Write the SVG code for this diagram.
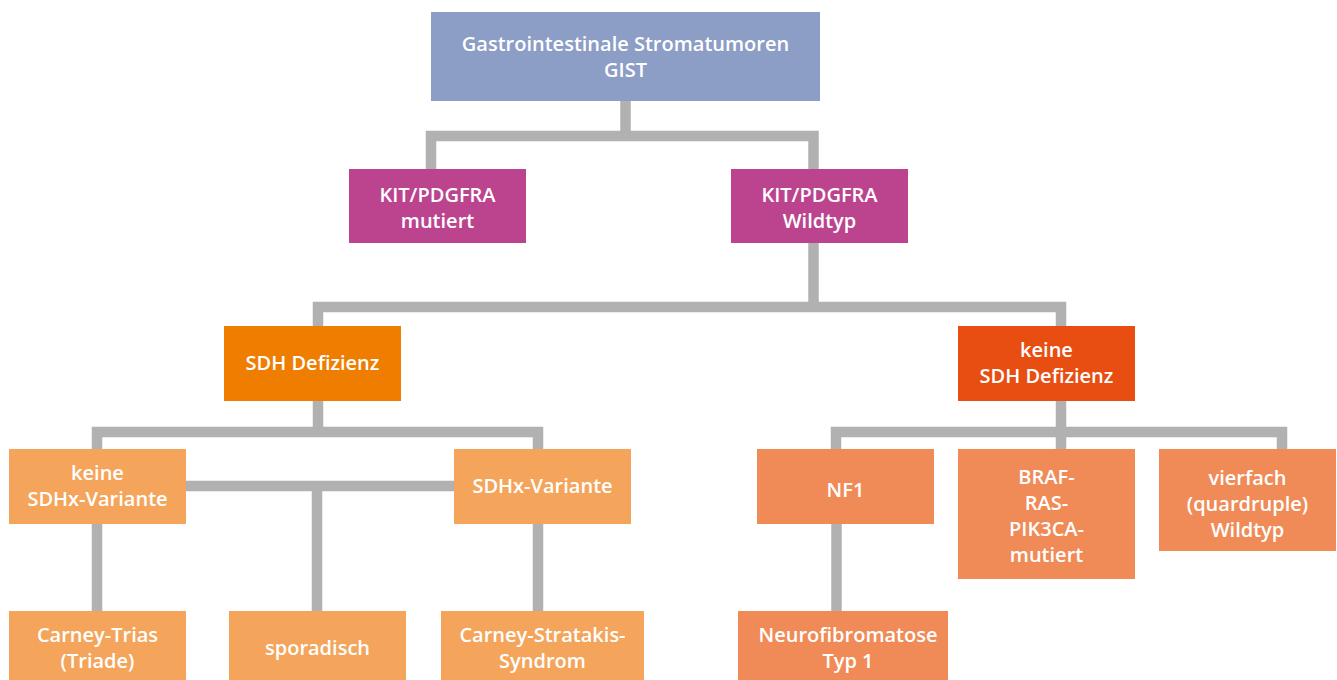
<svg xmlns="http://www.w3.org/2000/svg" width="1337" height="680" viewBox="0 0 1337 680">
<style>
text{font-family:"Open Sans","Noto Sans","Liberation Sans",sans-serif;font-weight:600;font-size:20px;fill:#fff;text-anchor:middle;dominant-baseline:central}
.c{fill:none;stroke:#b1b1b1;stroke-width:10.5}
.top{fill:#8c9dc6}.mag{fill:#bc448f}.sdh{fill:#ef7d00}.ksdh{fill:#e84e12}.lo{fill:#f4a55b}.ro{fill:#f08b57}
</style>
<rect width="1337" height="680" fill="#fff"/>
<g id="connectors">
<path class="c" d="M625.5 101V136M431 174V136H813.5V174"/>
<path class="c" d="M813.5 243V307"/>
<path class="c" d="M318 326V307H1061V326"/>
<path class="c" d="M318 401V432"/>
<path class="c" d="M97 449V432H538V449"/>
<path class="c" d="M186 486H454"/>
<path class="c" d="M317 486V611"/>
<path class="c" d="M97 524V611"/>
<path class="c" d="M538 524V611"/>
<path class="c" d="M1061 401V449"/>
<path class="c" d="M836 449V432H1282V449"/>
<path class="c" d="M836.5 524V611"/>
</g>
<g id="n_gist"><rect class="top" x="431" y="12" width="389" height="89"/><text x="625.5" y="43">Gastrointestinale Stromatumoren</text><text x="625.5" y="69">GIST</text></g>
<g id="n_mut"><rect class="mag" x="349" y="169" width="177" height="74"/><text x="437.5" y="194">KIT/PDGFRA</text><text x="437.5" y="220">mutiert</text></g>
<g id="n_wild"><rect class="mag" x="731" y="169" width="177" height="74"/><text x="819.5" y="194">KIT/PDGFRA</text><text x="819.5" y="220">Wildtyp</text></g>
<g id="n_sdh"><rect class="sdh" x="224" y="326" width="177" height="75"/><text x="312.5" y="362">SDH Defizienz</text></g>
<g id="n_ksdh"><rect class="ksdh" x="958" y="326" width="177" height="75"/><text x="1046.5" y="349">keine</text><text x="1046.5" y="375">SDH Defizienz</text></g>
<g id="n_ksdhx"><rect class="lo" x="9" y="449" width="177" height="75"/><text x="97.5" y="472">keine</text><text x="97.5" y="498">SDHx-Variante</text></g>
<g id="n_sdhx"><rect class="lo" x="454" y="449" width="177" height="75"/><text x="542.5" y="485">SDHx-Variante</text></g>
<g id="n_carney"><rect class="lo" x="9" y="611" width="177" height="75"/><text x="97.5" y="634">Carney-Trias</text><text x="97.5" y="660">(Triade)</text></g>
<g id="n_spor"><rect class="lo" x="229" y="611" width="177" height="75"/><text x="317.5" y="647">sporadisch</text></g>
<g id="n_cs"><rect class="lo" x="441" y="611" width="203" height="75"/><text x="542.5" y="634">Carney-Stratakis-</text><text x="542.5" y="660">Syndrom</text></g>
<g id="n_nf1"><rect class="ro" x="757" y="449" width="177" height="75"/><text x="845.5" y="489">NF1</text></g>
<g id="n_braf"><rect class="ro" x="958" y="449" width="177" height="130"/><text x="1046.5" y="476">BRAF-</text><text x="1046.5" y="502">RAS-</text><text x="1046.5" y="528">PIK3CA-</text><text x="1046.5" y="554">mutiert</text></g>
<g id="n_vier"><rect class="ro" x="1159" y="449" width="177" height="102"/><text x="1247.5" y="477">vierfach</text><text x="1247.5" y="503">(quardruple)</text><text x="1247.5" y="529">Wildtyp</text></g>
<g id="n_neuro"><rect class="ro" x="738" y="611" width="210" height="75"/><text x="848" y="634">Neurofibromatose</text><text x="848" y="660">Typ 1</text></g>
</svg>
